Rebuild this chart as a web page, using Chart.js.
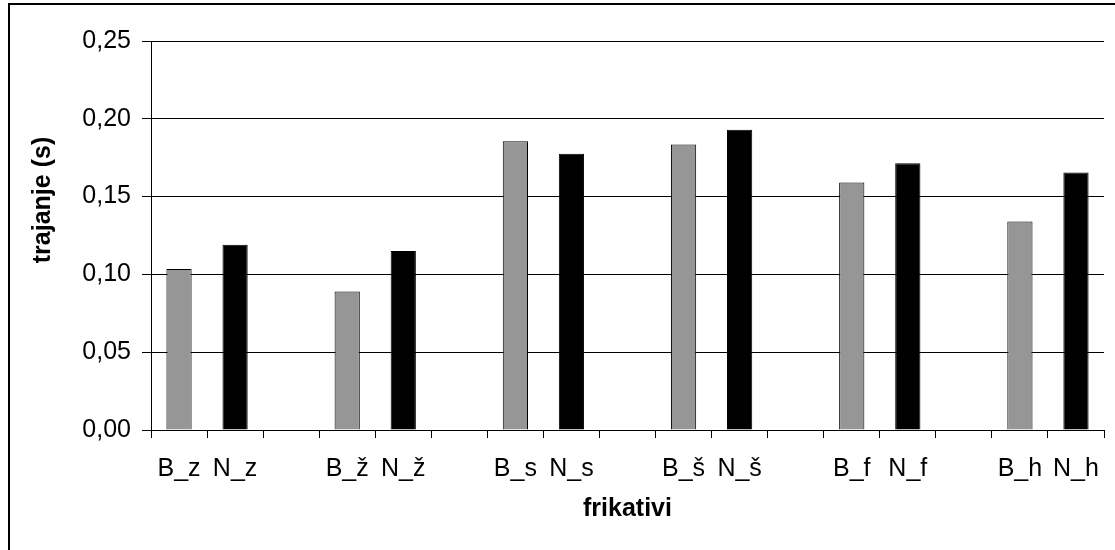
<!DOCTYPE html>
<html lang="sr">
<head>
    <meta charset="UTF-8">
    <title>Trajanje frikativa</title>
    <style>
        body {
            margin: 0;
            width: 1115px;
            height: 550px;
            overflow: hidden;
            background: #fff;
            position: relative;
        }

        .frame {
            position: absolute;
            left: 8px;
            top: 3px;
            width: 1200px;
            height: 700px;
            border: 2px solid #000;
        }

        canvas {
            position: absolute;
            left: 0;
            top: 0;
        }
    </style>
    <script src="https://cdn.jsdelivr.net/npm/chart.js"></script>
</head>
<body>
    <div class="frame"></div>
    <canvas id="fricativeChart" width="1115" height="550"></canvas>

    <script>
        // B = first speaker group, N = second; empty labels are spacer slots
        const labels = ['B_z', 'N_z', '', 'B_ž', 'N_ž', '', 'B_s', 'N_s', '', 'B_š', 'N_š', '', 'B_f', 'N_f', '', 'B_h', 'N_h'];
        const valuesB = [0.1035, null, null, 0.089, null, null, 0.1855, null, null, 0.1835, null, null, 0.159, null, null, 0.134, null];
        const valuesN = [null, 0.119, null, null, 0.115, null, null, 0.1775, null, null, 0.193, null, null, 0.1715, null, null, 0.1655];
        const yTicks = [0, 0.05, 0.10, 0.15, 0.20, 0.25];

        Chart.defaults.font.family = '"Liberation Sans", Arial, sans-serif';
        Chart.defaults.color = '#000';

        // rotated y title sits above the plot centre, so it is drawn by hand
        const yTitle = {
            id: 'yTitle',
            afterDraw(chart) {
                const ctx = chart.ctx;
                ctx.save();
                ctx.translate(43, 200);
                ctx.rotate(-Math.PI / 2);
                ctx.font = 'bold 25px "Liberation Sans", Arial, sans-serif';
                ctx.fillStyle = '#000';
                ctx.textAlign = 'center';
                ctx.textBaseline = 'middle';
                ctx.fillText('trajanje (s)', 0, 0);
                ctx.restore();
            }
        };

        new Chart(document.getElementById('fricativeChart').getContext('2d'), {
            type: 'bar',
            data: {
                labels: labels,
                datasets: [{
                    label: 'B',
                    data: valuesB,
                    backgroundColor: '#969696',
                    borderColor: '#000',
                    borderWidth: 1
                }, {
                    label: 'N',
                    data: valuesN,
                    backgroundColor: '#000',
                    borderColor: '#000',
                    borderWidth: 1
                }]
            },
            options: {
                responsive: false,
                animation: false,
                grouped: false,
                categoryPercentage: 1,
                barPercentage: 0.45,
                layout: {
                    padding: { top: 41, right: 3, left: 0, bottom: 0 }
                },
                plugins: {
                    legend: { display: false },
                    tooltip: { enabled: false }
                },
                scales: {
                    x: {
                        offset: true,
                        afterFit(scale) { scale.height = 120; },
                        grid: {
                            offset: true,
                            drawOnChartArea: false,
                            color: '#000',
                            tickLength: 8
                        },
                        border: { color: '#000', width: 1 },
                        ticks: {
                            font: { size: 25 },
                            padding: 16,
                            maxRotation: 0,
                            autoSkip: false
                        },
                        title: {
                            display: true,
                            text: 'frikativi',
                            font: { size: 25, weight: 'bold' },
                            padding: { top: 0, bottom: 26 }
                        }
                    },
                    y: {
                        min: 0,
                        max: 0.25,
                        afterFit(scale) { scale.width = 151; },
                        afterBuildTicks(scale) {
                            scale.ticks = yTicks.map(v => ({ value: v }));
                        },
                        grid: {
                            color: '#000',
                            tickLength: 9
                        },
                        border: { color: '#000', width: 1 },
                        ticks: {
                            font: { size: 25 },
                            padding: 11,
                            callback: v => v.toFixed(2).replace('.', ',')
                        }
                    }
                }
            },
            plugins: [yTitle]
        });
    </script>
</body>
</html>
